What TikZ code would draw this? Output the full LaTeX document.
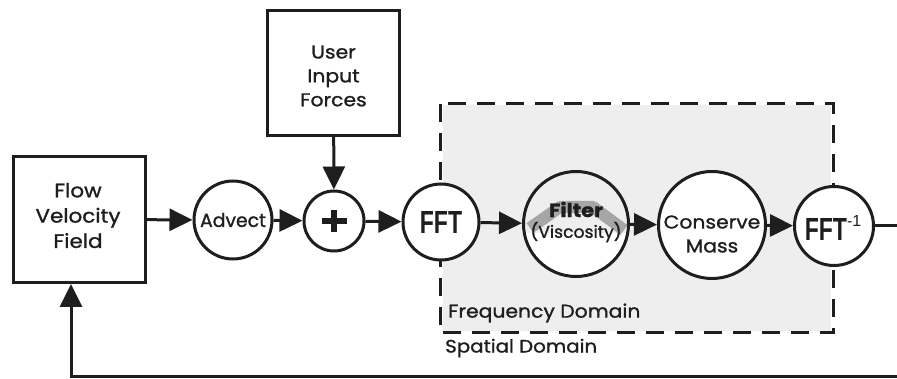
\documentclass[tikz,border=0pt]{standalone}
\usepackage{fontspec}
\setmainfont{Poppins}[FakeStretch=1.1,FakeBold=1.2]
\newfontfamily\condfont{Liberation Sans}
\usetikzlibrary{arrows.meta,calc}
\definecolor{ink}{HTML}{1E1E1E}
\definecolor{bggray}{HTML}{EEEEEE}
\definecolor{hatgray}{HTML}{A6A6A6}
\newcommand{\fsz}[1]{\fontsize{#1}{1.4\dimexpr#1pt\relax}\selectfont}
\newcommand{\fftt}{{\condfont\bfseries\fontsize{32}{32}\selectfont\scalebox{0.72}[1]{FFT}}}
\begin{document}
\begin{tikzpicture}[x=1pt,y=-1pt,
  every node/.style={inner sep=0pt, text=ink},
  blk/.style={draw=ink, line width=3pt, fill=white, minimum width=132pt, align=center},
  proc/.style={draw=ink, circle, line width=3pt, fill=white, align=center},
  flowarrow/.style={draw=ink, line width=3pt, -{Triangle[length=23pt,width=22pt]}},
  lbl/.style={anchor=west, font=\fsz{18}}
]
\useasboundingbox (0,0) rectangle (897,379);
\clip (0,0) rectangle (897,379);

% frequency-domain background and frame
\fill[bggray] (443,105) rectangle (831,331);
\draw[ink, line width=3pt, dash pattern=on 18pt off 11pt] (440,104) rectangle (833,333);

% filter circle background with hat shape
\fill[white] (576,224) circle (54);
\begin{scope}
  \clip (576,224) circle (53);
  \fill[bggray] (510,160) rectangle (640,233);
  \draw[hatgray, line width=12pt, line join=round] (530,228) -- (560,207) -- (593,207) -- (624,230);
\end{scope}

% nodes
\node[blk, minimum height=126pt] (flow) at (79.5,219.5) {};
\node[font=\fsz{19.5}, align=center] (flowtxt) at (78,215.5) {Flow\\[-2pt]Velocity\\[-2pt]Field};
\node[blk, minimum height=125pt] (user) at (333.5,73) {};
\node[font=\fsz{18.5}, align=center] (usertxt) at (333.5,76) {User\\[-2pt]Input\\[-2pt]Forces};
\node[proc, minimum size=78pt, font=\fsz{19}] (advect) at (233,220) {\scalebox{0.9}[1]{Advect}};
\node[proc, minimum size=60pt] (plus) at (334,221) {};
\node[proc, minimum size=76pt] (fft) at (441,222) {\fftt};
\node[proc, fill=none, minimum size=105pt] (filter) at (576,224) {};
\node[font=\fsz{17}, align=center] (filtertxt) at (576,222) {{\bfseries\fsz{19}Filter}\\[-3pt]\scalebox{0.92}[1]{(Viscosity)}};
\node[proc, minimum size=107pt] (mass) at (712,225) {};
\node[font=\fsz{18.5}, align=center] (masstxt) at (712,234) {Conserve\\[-2pt]Mass};
\node[proc, minimum size=79pt] (inv) at (834,226) {};
\node (invtxt) at (833,228) {\fftt\raisebox{14pt}{\condfont\fontsize{16}{16}\selectfont -1}};

% plus sign
\draw[ink, line width=6pt] ($(plus)+(-12.5,0)$) -- ($(plus)+(12.5,0)$);
\draw[ink, line width=6pt] ($(plus)+(0,-11)$) -- ($(plus)+(0,11)$);

% labels
\node[lbl, font=\fsz{18.5}] (freq) at (448,313) {Frequency Domain};
\node[lbl] (spat) at (445,348) {Spatial Domain};

% connectors
\draw[flowarrow] (flow) -- (advect);
\draw[flowarrow] (advect) -- (plus);
\draw[flowarrow] (user) -- (plus);
\draw[flowarrow] (plus) -- (fft);
\draw[flowarrow] (fft) -- (filter);
\draw[flowarrow] (filter) -- (mass);
\draw[flowarrow] (mass) -- (inv);
\coordinate (fb) at (71,376.5);
\draw[flowarrow] (inv.east) -- ++(40,0) |- (fb) -- (fb |- flow.south);
\end{tikzpicture}
\end{document}
